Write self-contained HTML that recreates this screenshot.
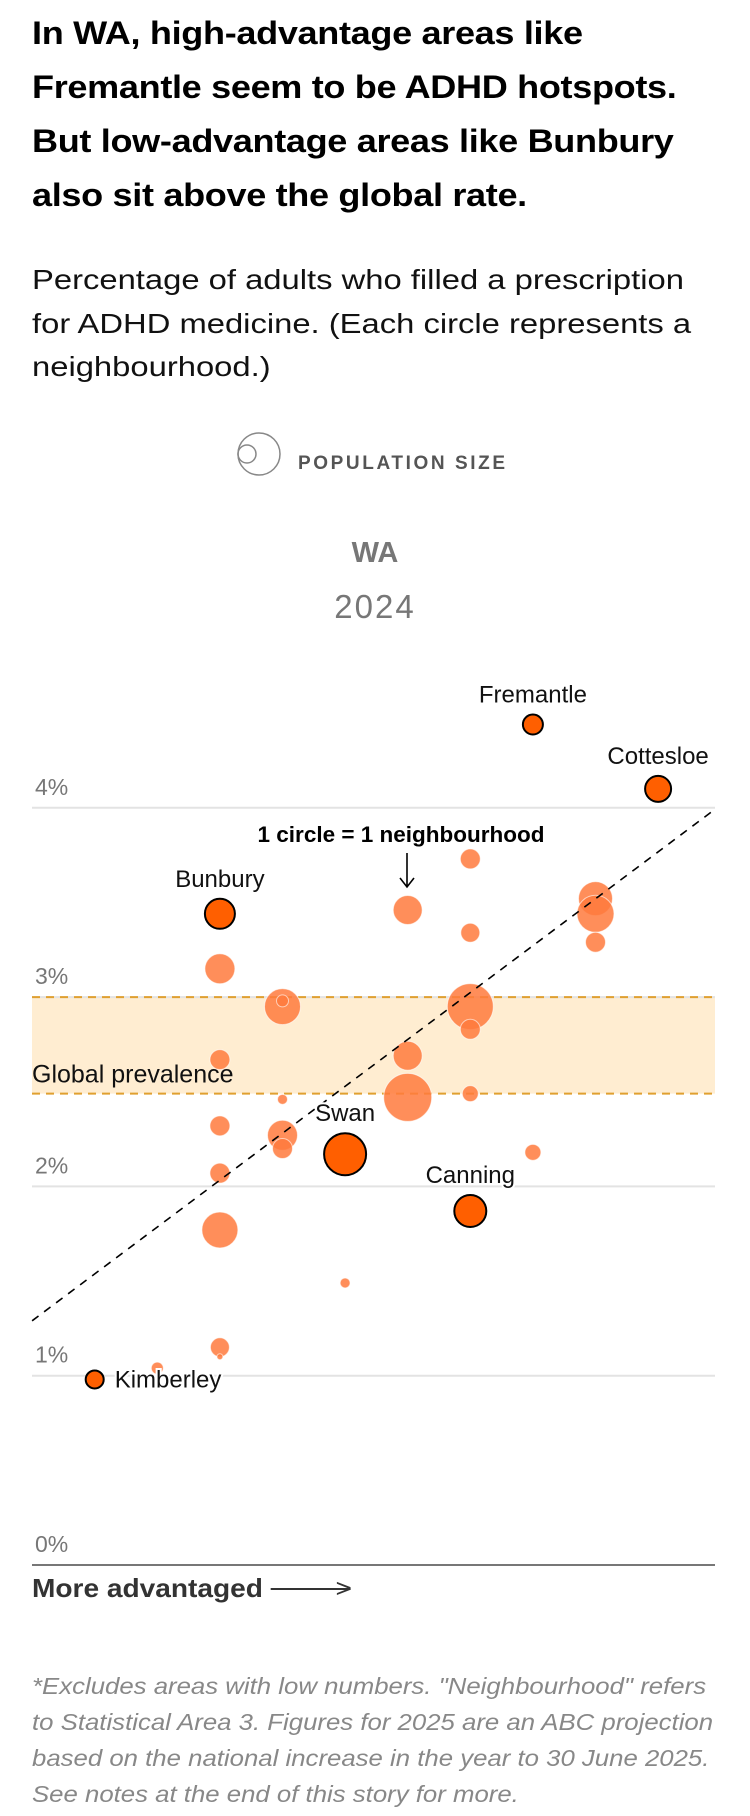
<!DOCTYPE html>
<html><head><meta charset="utf-8"><style>
body{margin:0;width:750px;height:1816px;background:#fff;font-family:"Liberation Sans",sans-serif;position:relative;overflow:hidden}
.abs{position:absolute;margin:0}
h1{position:absolute;left:32px;top:6px;width:640px;font-size:32.5px;line-height:54px;font-weight:bold;color:#000;margin:0;letter-spacing:-0.3px;white-space:nowrap;transform:scaleX(1.11);transform-origin:0 0}
.sub{left:32px;top:258px;font-size:28px;line-height:43.5px;color:#111;white-space:nowrap;transform:scaleX(1.17);transform-origin:0 0}
.foot{left:32px;top:1668px;font-size:23px;line-height:36px;color:#888;font-style:italic;white-space:nowrap;transform:scaleX(1.12);transform-origin:0 0}
</style></head><body>
<h1>In WA, high-advantage areas like<br>Fremantle seem to be ADHD hotspots.<br>But low-advantage areas like Bunbury<br>also sit above the global rate.</h1>
<p class="abs sub">Percentage of adults who filled a prescription<br>for ADHD medicine. (Each circle represents a<br>neighbourhood.)</p>
<svg id="chart" class="abs" style="left:0;top:0" width="750" height="1650" font-family="Liberation Sans, sans-serif">
<g>
<circle cx="259" cy="454" r="21" fill="none" stroke="#888" stroke-width="1.5"/>
<circle cx="247" cy="454" r="9" fill="none" stroke="#888" stroke-width="1.5"/>
<text x="298" y="469" font-size="19" font-weight="bold" fill="#555" letter-spacing="2.6">POPULATION SIZE</text>
</g>
<text x="375" y="562" text-anchor="middle" font-size="29" font-weight="bold" fill="#777">WA</text>
<text x="375" y="618" text-anchor="middle" font-size="33" fill="#777" letter-spacing="2">2024</text>
<g id="grid"></g>
<g id="marks"></g>
<g id="labels"></g>
</svg>
<p class="abs" style="left:32px;top:1573px;font-size:26px;font-weight:bold;color:#333;transform:scaleX(1.08);transform-origin:0 0;white-space:nowrap">More advantaged <span style="display:inline-block;width:74px;position:relative;top:-7px;border-top:2px solid #333"></span><span style="position:relative;left:-14px;font-weight:normal">&gt;</span></p>
<p class="abs foot">*Excludes areas with low numbers. "Neighbourhood" refers<br>to Statistical Area 3. Figures for 2025 are an ABC projection<br>based on the national increase in the year to 30 June 2025.<br>See notes at the end of this story for more.</p>
<script>
const ticks=[0,1,2,3,4];
const tickLabels=["0%","1%","2%","3%","4%"];
const bandLow=2.49, bandHigh=3.0;
const trendStart=[ -1.0, 1.29 ], trendEnd=[ 9.9, 3.99 ];
const cols=[0,1,2,2,2,2,2,2,2,2,3,3,3,3,3,4,4,5,5,5,6,6,6,6,6,6,7,7,8,8,8,9];
const vals=[0.98,1.04,1.15,1.10,1.77,2.07,2.32,2.67,3.15,3.44,2.46,2.27,2.20,2.95,2.98,2.17,1.49,3.46,2.69,2.47,3.73,3.34,2.95,2.83,2.49,1.87,4.44,2.18,3.52,3.44,3.29,4.10];
const pops=[9,6,9.5,3,18,10,10,10,15,15,5,15,10,18,6,21,5,14.5,14.5,24,10,9.5,23,10,8,16,10,8,17,18.5,10,13];
const names=["Kimberley","","","","","","","","","Bunbury","","","","","","Swan","","","","","","","","","","Canning","Fremantle","","","","","Cottesloe"];
const X0=32,X1=715;
const xs=i=>94.7+62.6*i;
const ys=v=>1565-189.3*v;
const NS="http://www.w3.org/2000/svg";
function mk(t,p,a){const e=document.createElementNS(NS,t);for(const k in a)e.setAttribute(k,a[k]);p.appendChild(e);return e;}
const grid=document.getElementById('grid'),marks=document.getElementById('marks'),labels=document.getElementById('labels');
let band=mk('rect',grid,{x:X0,y:ys(bandHigh),width:X1-X0,height:ys(bandLow)-ys(bandHigh),fill:'#ffedd1'});


ticks.forEach((t,i)=>{
 const l=mk('line',grid,{x1:X0,x2:X1,y1:ys(t),y2:ys(t),stroke:t===0?'#777':'#e3e3e3','stroke-width':2});
 
 
 const tx=mk('text',grid,{x:35,y:ys(t)-13,'font-size':23,fill:'#777'});tx.textContent=tickLabels[i];
 
 
});
[bandLow,bandHigh].forEach(v=>{const l=mk('line',grid,{x1:X0,x2:X1,y1:ys(v),y2:ys(v),stroke:'#e0a030','stroke-width':2,'stroke-dasharray':'8 6'});
 
 });
const gp=mk('text',grid,{x:32,y:ys(bandLow)-11,'font-size':25,fill:'#111'});gp.textContent='Global prevalence';


cols.forEach((c,i)=>{
 const hl=names[i]!=='';
 const ci=mk('circle',marks,{cx:xs(c),cy:ys(vals[i]),r:pops[i],fill:hl?'#ff5f00':'#ff7a3d','fill-opacity':hl?1:0.85,stroke:hl?'#000':'#fff','stroke-width':hl?2:1,'stroke-opacity':hl?1:0.6});
 
 
});
const tl=mk('line',labels,{x1:xs(trendStart[0]),y1:ys(trendStart[1]),x2:xs(trendEnd[0]),y2:ys(trendEnd[1]),stroke:'#000','stroke-width':1.6,'stroke-dasharray':'8 7'});


cols.forEach((c,i)=>{
 if(!names[i])return;
 let x=xs(c),y=ys(vals[i])-pops[i]-12,anchor='middle';
 if(names[i]==='Kimberley'){x=xs(c)+20;y=ys(vals[i])+8;anchor='start';}
 const t=mk('text',labels,{x:x,y:y,'text-anchor':anchor,'font-size':24,fill:'#111',stroke:'#fff','stroke-width':4,'paint-order':'stroke'});
 t.textContent=names[i];
 
 
});
const an=mk('text',labels,{x:401,y:842,'text-anchor':'middle','font-size':22.5,'font-weight':'bold',fill:'#000'});an.textContent='1 circle = 1 neighbourhood';


const ar=mk('path',labels,{d:'M407 853 V886 M400 878 L407 887 L414 878',stroke:'#000','stroke-width':1.6,fill:'none'});


</script>
</body></html>
